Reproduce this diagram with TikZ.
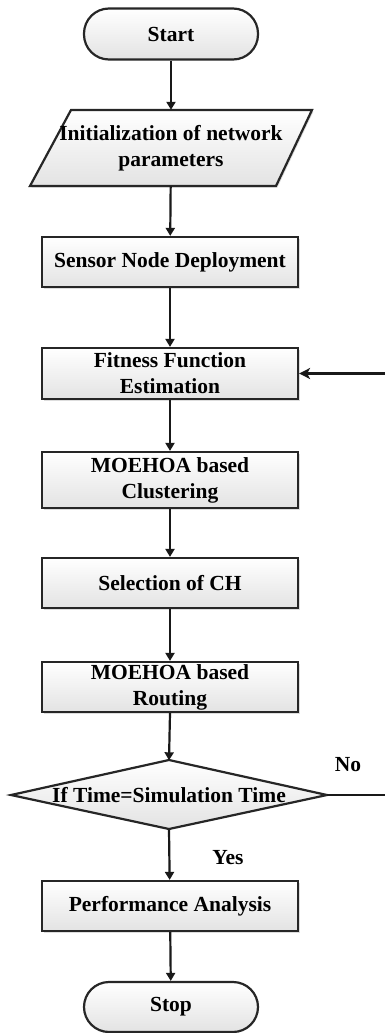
\documentclass[tikz,border=0pt]{standalone}
\usepackage{fontspec}
\setmainfont{Liberation Serif}
\usetikzlibrary{arrows.meta,shadows}
\begin{document}
\begin{tikzpicture}[x=1pt,y=-1pt,
  every node/.style={font=\fontsize{21.5}{26}\selectfont\bfseries, align=center, inner sep=0pt},
  boxfill/.style={top color=white, bottom color=gray!22, draw=black!85, line width=2.2pt},
  shade/.style={drop shadow={shadow xshift=1.5pt, shadow yshift=-1.5pt, fill=gray!45, opacity=0.6}},
  procbox/.style={boxfill, shade, minimum width=256pt, minimum height=50pt},
  termbox/.style={boxfill, rounded corners=25pt, minimum width=174pt, minimum height=51pt},
  flow/.style={line width=2.2pt, draw=black!90, -{Triangle[length=8pt,width=9pt]}},
  back/.style={line width=2.4pt, draw=black!90, -{Stealth[length=11pt,width=11pt,inset=3pt]}},
  plain/.style={line width=2.4pt, draw=black!90},
  lbl/.style={font=\fontsize{21.5}{24}\selectfont\bfseries}
]
\useasboundingbox (0,0) rectangle (385,1033);

\node[termbox] (start) at (171,34) {Start};

% parallelogram
\path[boxfill, shade] (71,110) -- (312,110) -- (276,186) -- (30,186) -- cycle;
\node[minimum width=200pt, minimum height=76pt] (init) at (171,148) {Initialization of network\\parameters};

\node[procbox] (sensor) at (170,262) {Sensor Node Deployment};
\node[procbox, minimum height=51pt] (fit) at (170,373.5) {Fitness Function\\Estimation};
\node[procbox, minimum height=56pt] (clus) at (170,480) {MOEHOA based\\Clustering};
\node[procbox] (sel) at (170,583) {Selection of CH};
\node[procbox] (rout) at (170,687) {MOEHOA based\\Routing};

% decision diamond
\path[boxfill] (11,795) -- (169,760) -- (327,795) -- (169,829) -- cycle;
\node[minimum width=316pt, minimum height=69pt] (dec) at (169,795) {If Time=Simulation Time};

\node[procbox] (perf) at (170,906) {Performance Analysis};
\node[termbox, minimum height=50pt] (stop) at (171,1007) {Stop};

\coordinate (rdec) at (386,795);
\coordinate (rfit) at (386,373.5);

\draw[flow] (start) -- (init);
\draw[flow] (init) -- (sensor);
\draw[flow] (sensor) -- (fit);
\draw[flow] (fit) -- (clus);
\draw[flow] (clus) -- (sel);
\draw[flow] (sel) -- (rout);
\draw[flow] (rout.south) -- (dec.north);
\draw[flow] (dec.south) -- (perf);
\draw[flow] (perf) -- (stop);

\draw[plain] (dec.east) -- (rdec);
\draw[back] (rfit) -- (fit.east);

\node[lbl] (no) at (348,765) {No};
\node[lbl] (yes) at (228,858) {Yes};
\end{tikzpicture}
\end{document}
